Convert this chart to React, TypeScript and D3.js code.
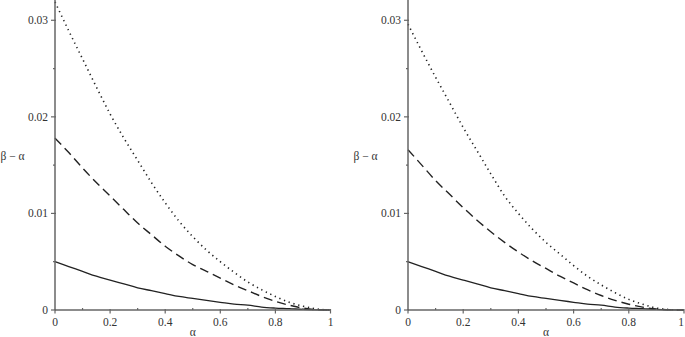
import { useEffect, useRef } from 'react';
import * as d3 from "d3";

// alpha grid shared by every curve
const alphas = [0, 0.05, 0.1, 0.15, 0.2, 0.25, 0.3, 0.35, 0.4, 0.45, 0.5, 0.55, 0.6, 0.65, 0.7, 0.75, 0.8, 0.85, 0.9, 0.95, 1];

// left panel
const leftDotted = [0.0319, 0.0289, 0.0260, 0.0231, 0.0203, 0.0178, 0.0155, 0.0132, 0.0111, 0.0092, 0.0076, 0.0062, 0.0050, 0.0039, 0.0029, 0.0021, 0.0014, 0.0008, 0.0004, 0.0001, 0];
const leftDashed = [0.0178, 0.0163, 0.0147, 0.0132, 0.0118, 0.0104, 0.0090, 0.0078, 0.0066, 0.0056, 0.0047, 0.0040, 0.0033, 0.0026, 0.0020, 0.0014, 0.0009, 0.0005, 0.0002, 0.00003, 0];
const leftSolid = [0.0050, 0.0045, 0.0040, 0.0035, 0.0031, 0.0027, 0.0023, 0.0020, 0.0017, 0.0014, 0.0012, 0.0010, 0.0008, 0.0006, 0.0005, 0.0003, 0.0002, 0.00014, 0.00006, 0.00002, 0];

// right panel
const rightDotted = [0.0296, 0.0268, 0.0241, 0.0215, 0.0189, 0.0165, 0.0141, 0.0118, 0.0100, 0.0084, 0.0070, 0.0058, 0.0046, 0.0035, 0.0026, 0.0018, 0.0011, 0.0006, 0.0002, 0.00004, 0];
const rightDashed = [0.0166, 0.0150, 0.0134, 0.0120, 0.0106, 0.0093, 0.0081, 0.0070, 0.0060, 0.0051, 0.0043, 0.0035, 0.0028, 0.0021, 0.0015, 0.0010, 0.0006, 0.0003, 0.0001, 0.00002, 0];
const rightSolid = [0.0050, 0.0045, 0.0040, 0.0035, 0.0031, 0.0027, 0.0023, 0.0020, 0.0017, 0.0014, 0.0012, 0.0010, 0.0008, 0.0006, 0.0005, 0.0003, 0.0002, 0.00014, 0.00006, 0.00002, 0];

const xTicks = [0, 0.2, 0.4, 0.6, 0.8, 1];
const xMinorTicks = [0.1, 0.3, 0.5, 0.7, 0.9];
const yTicks = [0, 0.01, 0.02, 0.03];
const yMinorTicks = [0.005, 0.015, 0.025];
const xTickLabels = ["0", "0.2", "0.4", "0.6", "0.8", "1"];
const yTickLabels = ["0", "0.01", "0.02", "0.03"];

const FONT = "'Liberation Serif', 'Times New Roman', serif";
const W = 685;

const App = () => {
    const svgRef = useRef<SVGSVGElement | null>(null);

    useEffect(() => {
        if (!svgRef.current) return;
        const svg = d3.select(svgRef.current);
        svg.selectAll("*").remove();

        const yScale = d3.scaleLinear().domain([0, 0.0321]).range([310, 0]);

        const panels = [
            { x0: 55, x1: 330.5, series: [leftDotted, leftDashed, leftSolid] },
            { x0: 408, x1: 684, series: [rightDotted, rightDashed, rightSolid] },
        ];
        const styles = [
            { dash: "1.3,3.7", width: 1.6 },
            { dash: "9,5", width: 1.4 },
            { dash: null, width: 1.3 },
        ];
        const axisColor = "#666";

        panels.forEach(p => {
            const xScale = d3.scaleLinear().domain([0, 1]).range([p.x0, p.x1]);
            const g = svg.append("g");

            // curves
            p.series.forEach((vals, i) => {
                const line = d3.line<number>()
                    .x((_, j) => xScale(alphas[j]))
                    .y(d => yScale(d))
                    .curve(d3.curveMonotoneX);
                const path = g.append("path")
                    .datum(vals)
                    .attr("fill", "none")
                    .attr("stroke", "#222")
                    .attr("stroke-width", styles[i].width)
                    .attr("d", line);
                if (styles[i].dash) path.attr("stroke-dasharray", styles[i].dash);
            });

            // axes lines
            g.append("line")
                .attr("x1", xScale(0)).attr("x2", xScale(1))
                .attr("y1", yScale(0)).attr("y2", yScale(0))
                .attr("stroke", axisColor).attr("stroke-width", 1.5);
            g.append("line")
                .attr("x1", xScale(0)).attr("x2", xScale(0))
                .attr("y1", yScale(0)).attr("y2", 0)
                .attr("stroke", axisColor).attr("stroke-width", 1.5);

            // x ticks
            g.selectAll(".xt").data(xTicks).enter().append("line")
                .attr("x1", d => xScale(d)).attr("x2", d => xScale(d))
                .attr("y1", yScale(0) - 1).attr("y2", yScale(0) + 3.5)
                .attr("stroke", axisColor).attr("stroke-width", 1.2);
            g.selectAll(".xm").data(xMinorTicks).enter().append("line")
                .attr("x1", d => xScale(d)).attr("x2", d => xScale(d))
                .attr("y1", yScale(0) - 2).attr("y2", yScale(0))
                .attr("stroke", axisColor).attr("stroke-width", 1.2);
            g.selectAll(".xl").data(xTicks).enter().append("text")
                .attr("x", d => Math.min(xScale(d), W - 4)).attr("y", 326)
                .attr("text-anchor", "middle")
                .attr("font-family", FONT).attr("font-size", 11.5)
                .attr("fill", "#333")
                .text((_, i) => xTickLabels[i]);

            // y ticks
            g.selectAll(".yt").data(yTicks).enter().append("line")
                .attr("x1", xScale(0) - 4).attr("x2", xScale(0) + 1)
                .attr("y1", d => yScale(d)).attr("y2", d => yScale(d))
                .attr("stroke", axisColor).attr("stroke-width", 1.2);
            g.selectAll(".ym").data(yMinorTicks).enter().append("line")
                .attr("x1", xScale(0) - 2).attr("x2", xScale(0))
                .attr("y1", d => yScale(d)).attr("y2", d => yScale(d))
                .attr("stroke", axisColor).attr("stroke-width", 1.2);
            g.selectAll(".yl").data(yTicks).enter().append("text")
                .attr("x", xScale(0) - 7).attr("y", d => yScale(d) + 4)
                .attr("text-anchor", "end")
                .attr("font-family", FONT).attr("font-size", 11.5)
                .attr("fill", "#333")
                .text((_, i) => yTickLabels[i]);

            // axis titles
            g.append("text")
                .attr("x", (xScale(0) + xScale(1)) / 2).attr("y", 336)
                .attr("text-anchor", "middle")
                .attr("font-family", FONT).attr("font-size", 11.5)
                .attr("fill", "#333")
                .text("α");
            g.append("text")
                .attr("x", xScale(0) - 54.5).attr("y", 160)
                .attr("text-anchor", "start")
                .attr("font-family", FONT).attr("font-size", 11.5)
                .attr("fill", "#333")
                .text("β − α");
        });
    }, []);

    return (
        <div style={{ position: "absolute", left: 0, top: 0 }}>
            <svg ref={svgRef} width={W} height={337} style={{ display: "block", background: "#fff" }}></svg>
        </div>
    );
};

export default App;
